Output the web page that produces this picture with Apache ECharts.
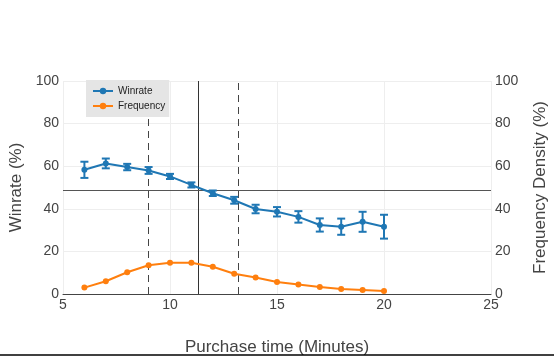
<!DOCTYPE html>
<html>
<head>
<meta charset="utf-8">
<script src="https://cdn.jsdelivr.net/npm/echarts@6/dist/echarts.min.js"></script>
<style>
html,body{margin:0;padding:0;background:#fff;}
#chart{width:554px;height:357px;}
</style>
</head>
<body>
<div id="chart"></div>
<script>
var minutes = [6, 7, 8, 9, 10, 11, 12, 13, 14, 15, 16, 17, 18, 19, 20];
var winrate = [58.3, 61.3, 59.6, 58.0, 55.2, 51.2, 47.3, 44.0, 39.9, 38.6, 36.2, 32.4, 31.6, 33.9, 31.6];
var winrateErr = [3.8, 2.3, 1.5, 1.6, 1.2, 1.2, 1.3, 1.6, 2.0, 2.2, 2.7, 3.1, 3.8, 4.7, 5.6];
var frequency = [3.0, 6.0, 10.2, 13.5, 14.7, 14.7, 12.8, 9.5, 7.7, 5.6, 4.5, 3.3, 2.3, 1.9, 1.4];
var dashedLinesX = [9.0, 13.19];
var solidLineX = 11.32;
var solidLineY = 48.8;
var xTicks = [5, 10, 15, 20, 25];
var yTicks = [0, 20, 40, 60, 80, 100];

var blue = '#1f77b4', orange = '#ff7f0e';
var font = 'Liberation Sans, Arial, sans-serif';

var chart = echarts.init(document.getElementById('chart'));
var winData = minutes.map(function (m, i) { return [m, winrate[i]]; });
var freqData = minutes.map(function (m, i) { return [m, frequency[i]]; });
var errData = minutes.map(function (m, i) { return [m, winrate[i] - winrateErr[i], winrate[i] + winrateErr[i]]; });

var yAxisCommon = {
  type: 'value', min: yTicks[0], max: yTicks[yTicks.length - 1], interval: 20,
  axisLine: { show: false }, axisTick: { show: false },
  nameLocation: 'middle',
  nameTextStyle: { color: '#444', fontSize: 17, fontFamily: font },
  axisLabel: { color: '#444', fontSize: 14, fontFamily: font, margin: 4 }
};

chart.setOption({
  animation: false,
  backgroundColor: '#fff',
  grid: { left: 63, right: 63, top: 81, bottom: 63, containLabel: false, outerBoundsMode: 'none' },
  legend: {
    left: 86, top: 80, orient: 'vertical', z: 20,
    backgroundColor: '#e5e5e5', borderRadius: 0,
    padding: [6, 4, 6, 6], itemGap: 5, itemWidth: 20, itemHeight: 8,
    textStyle: { fontSize: 10, color: '#222', fontFamily: font },
    data: ['Winrate', 'Frequency']
  },
  xAxis: {
    type: 'value', min: xTicks[0], max: xTicks[xTicks.length - 1], interval: 5,
    name: 'Purchase time (Minutes)', nameLocation: 'middle', nameGap: 45,
    nameTextStyle: { color: '#444', fontSize: 17, fontFamily: font },
    axisLine: { show: true, onZero: false, lineStyle: { color: '#444', width: 1 } },
    axisTick: { show: false },
    axisLabel: { color: '#444', fontSize: 14, fontFamily: font, margin: 4 },
    splitLine: { show: true, lineStyle: { color: '#eeeeee', width: 1 } }
  },
  yAxis: [
    Object.assign({}, yAxisCommon, {
      name: 'Winrate (%)', nameGap: 38, position: 'left',
      splitLine: { show: true, lineStyle: { color: '#eeeeee', width: 1 },
        interval: function (i, v) { return v !== 100 && v !== 0; } }
    }),
    Object.assign({}, yAxisCommon, {
      name: 'Frequency Density (%)', nameGap: 41, position: 'right',
      splitLine: { show: false }
    })
  ],
  graphic: [
    { type: 'line', shape: { x1: 0, y1: 355, x2: 554, y2: 355 }, style: { stroke: '#000', lineWidth: 1.5 }, z: 100 }
  ],
  series: [
    {
      name: 'WinrateErr', type: 'custom', yAxisIndex: 0, data: errData, z: 3,
      renderItem: function (params, api) {
        var x = api.value(0);
        var lo = api.coord([x, api.value(1)]);
        var hi = api.coord([x, api.value(2)]);
        var w = 4;
        var st = { stroke: blue, lineWidth: 2, fill: null };
        return { type: 'group', children: [
          { type: 'line', shape: { x1: lo[0], y1: lo[1], x2: hi[0], y2: hi[1] }, style: st },
          { type: 'line', shape: { x1: lo[0] - w, y1: lo[1], x2: lo[0] + w, y2: lo[1] }, style: st },
          { type: 'line', shape: { x1: hi[0] - w, y1: hi[1], x2: hi[0] + w, y2: hi[1] }, style: st }
        ] };
      },
      encode: { x: 0, y: [1, 2] }, silent: true
    },
    {
      name: 'Winrate', type: 'line', yAxisIndex: 0, data: winData,
      color: blue, symbol: 'circle', symbolSize: 6, z: 4,
      lineStyle: { width: 2, color: blue }, itemStyle: { color: blue },
      markLine: {
        silent: true, symbol: 'none', label: { show: false }, z: 2,
        data: [
          { xAxis: dashedLinesX[0], lineStyle: { type: [7, 5], color: '#444', width: 1 } },
          { xAxis: dashedLinesX[1], lineStyle: { type: [7, 5], color: '#444', width: 1 } },
          { xAxis: solidLineX, lineStyle: { type: 'solid', color: '#333', width: 1 } },
          { yAxis: solidLineY, lineStyle: { type: 'solid', color: '#555', width: 1.2 } }
        ]
      }
    },
    {
      name: 'Frequency', type: 'line', yAxisIndex: 1, data: freqData,
      color: orange, symbol: 'circle', symbolSize: 6, z: 4,
      lineStyle: { width: 2, color: orange }, itemStyle: { color: orange }
    }
  ]
});
</script>
</body>
</html>
